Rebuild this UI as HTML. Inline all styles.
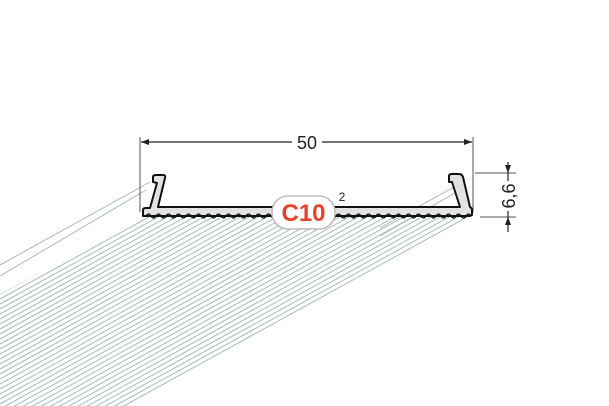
<!DOCTYPE html>
<html><head><style>html,body{margin:0;padding:0;background:#fff;width:609px;height:406px;overflow:hidden}</style></head>
<body>
<svg width="609" height="406" viewBox="0 0 609 406" xmlns="http://www.w3.org/2000/svg" font-family="Liberation Sans, sans-serif">
<defs>
<clipPath id="c"><polygon points="146,216 472,216 155,406 0,406 0,294"/></clipPath>
</defs>
<g clip-path="url(#c)" stroke="#a9baba" stroke-width="1">
<line x1="0" y1="294" x2="480" y2="30"/>
<line x1="0" y1="299" x2="480" y2="35"/>
<line x1="0" y1="304" x2="480" y2="40"/>
<line x1="0" y1="309" x2="480" y2="45"/>
<line x1="0" y1="314" x2="480" y2="50"/>
<line x1="0" y1="319" x2="480" y2="55"/>
<line x1="0" y1="324" x2="480" y2="60"/>
<line x1="0" y1="329" x2="480" y2="65"/>
<line x1="0" y1="334" x2="480" y2="70"/>
<line x1="0" y1="339" x2="480" y2="75"/>
<line x1="0" y1="344" x2="480" y2="80"/>
<line x1="0" y1="349" x2="480" y2="85"/>
<line x1="0" y1="354" x2="480" y2="90"/>
<line x1="0" y1="359" x2="480" y2="95"/>
<line x1="0" y1="364" x2="480" y2="100"/>
<line x1="0" y1="369" x2="480" y2="105"/>
<line x1="0" y1="374" x2="480" y2="110"/>
<line x1="0" y1="379" x2="480" y2="115"/>
<line x1="0" y1="384" x2="480" y2="120"/>
<line x1="0" y1="389" x2="480" y2="125"/>
<line x1="0" y1="394" x2="480" y2="130"/>
<line x1="0" y1="399" x2="480" y2="135"/>
<line x1="0" y1="404" x2="480" y2="140"/>
<line x1="0" y1="409" x2="480" y2="145"/>
<line x1="0" y1="414" x2="480" y2="150"/>
<line x1="0" y1="419" x2="480" y2="155"/>
<line x1="0" y1="424" x2="480" y2="160"/>
<line x1="0" y1="429" x2="480" y2="165"/>
<line x1="0" y1="434" x2="480" y2="170"/>
<line x1="0" y1="439" x2="480" y2="175"/>
<line x1="0" y1="444" x2="480" y2="180"/>
<line x1="0" y1="449" x2="480" y2="185"/>
<line x1="0" y1="454" x2="480" y2="190"/>
<line x1="0" y1="459" x2="480" y2="195"/>
<line x1="0" y1="464" x2="480" y2="200"/>
<line x1="0" y1="469" x2="480" y2="205"/>
<line x1="0" y1="474" x2="480" y2="210"/>
</g>
<line x1="150" y1="182" x2="0" y2="265" stroke="#a9baba"/>
<line x1="146" y1="190" x2="0" y2="276" stroke="#a9baba"/>
<line x1="463" y1="182" x2="380" y2="228" stroke="#a9baba"/>
<line x1="460" y1="190" x2="380" y2="236" stroke="#a9baba"/>
<line x1="140" y1="137" x2="140" y2="212" stroke="#555" stroke-width="1"/>
<line x1="473" y1="137" x2="473" y2="212" stroke="#555" stroke-width="1"/>
<line x1="141" y1="142" x2="472" y2="142" stroke="#222" stroke-width="1.2"/>
<polygon points="141,142 149,139 149,145" fill="#222"/>
<polygon points="472,142 464,139 464,145" fill="#222"/>
<rect x="292" y="132" width="30" height="20" fill="#fff"/>
<text x="307" y="149" font-size="18" text-anchor="middle" fill="#222">50</text>
<line x1="475" y1="173" x2="516" y2="173" stroke="#555"/>
<line x1="480" y1="217" x2="516" y2="217" stroke="#555"/>
<line x1="508" y1="162" x2="508" y2="232" stroke="#222" stroke-width="1.2"/>
<polygon points="508,173 505,165 511,165" fill="#222"/>
<polygon points="508,217 505,225 511,225" fill="#222"/>
<rect x="498" y="181" width="20" height="30" fill="#fff"/>
<text x="0" y="0" font-size="18" text-anchor="middle" fill="#222" transform="translate(515,196) rotate(-90)">6,6</text>
<path d="M143,216 L143,210 Q143,208 146,208 L150,208 L157,183 L153,182 L153,177 Q153,175 156,175 L163,175 Q166,175 165,178 L158,207 L460,207 L452,182 L449,182 L449,176 Q449,174 452,174 L459,174 Q462,174 463,177 L470,207 Q472,208 472,210 L472,215 L470,216 Z" fill="#e2e2e2" stroke="#111" stroke-width="2" stroke-linejoin="round"/>
<path d="M146,216 q2.5,-4 5,0 t5,0 t5,0 t5,0 t5,0 t5,0 t5,0 t5,0 t5,0 t5,0 t5,0 t5,0 t5,0 t5,0 t5,0 t5,0 t5,0 t5,0 t5,0 t5,0 t5,0 t5,0 t5,0 t5,0 t5,0 t5,0 t5,0 t5,0 t5,0 t5,0 t5,0 t5,0 t5,0 t5,0 t5,0 t5,0 t5,0 t5,0 t5,0 t5,0 t5,0 t5,0 t5,0 t5,0 t5,0 t5,0 t5,0 t5,0 t5,0 t5,0 t5,0 t5,0 t5,0 t5,0 t5,0 t5,0 t5,0 t5,0 t5,0 t5,0 t5,0 t5,0 t5,0 t5,0 t5,0" fill="none" stroke="#111" stroke-width="1.3"/>
<rect x="272" y="196" width="63" height="33" rx="16" fill="#fff" stroke="#bbb" stroke-width="1.5"/>
<text x="303.5" y="221" font-size="24" font-weight="bold" text-anchor="middle" fill="#e8412a">C10</text>
<text x="342" y="201" font-size="12" text-anchor="middle" fill="#222">2</text>
</svg>
</body></html>
